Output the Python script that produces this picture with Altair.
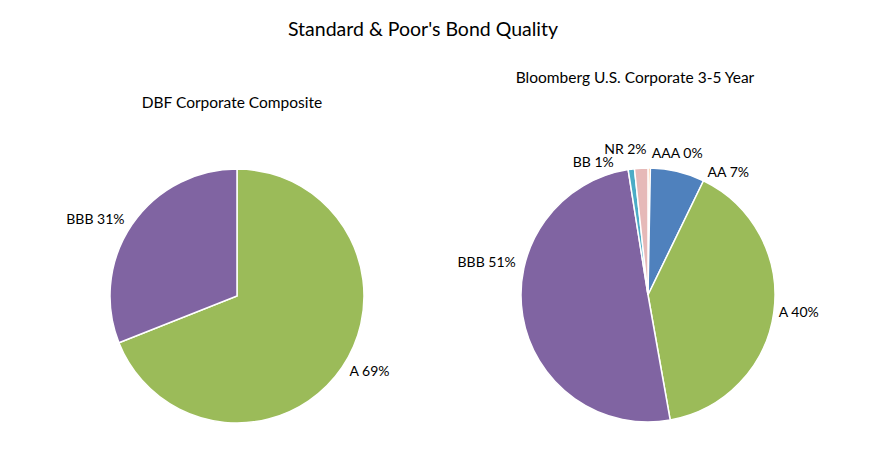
import altair as alt
import pandas as pd

# colours per rating (Excel 2010 palette)
CATEGORIES = ["AAA", "AA", "A", "BBB", "BB", "NR"]
COLORS = ["#F79646", "#4F81BD", "#9BBB59", "#8064A2", "#4BACC6", "#E6B9B8"]

# DBF Corporate Composite
DBF_GRADES = ["A", "BBB"]
DBF_SHARE = [69, 31]
DBF_PCT = ["69%", "31%"]

# Bloomberg U.S. Corporate 3-5 Year
BBG_GRADES = ["AAA", "AA", "A", "BBB", "BB", "NR"]
BBG_SHARE = [0.3, 6.9, 40.0, 50.3, 0.8, 1.7]
BBG_PCT = ["0%", "7%", "40%", "51%", "1%", "2%"]

# where crowded labels were moved: degrees along the rim, px outwards
DBF_SHIFT = [0, 0]
DBF_PUSH = [0, 0]
BBG_SHIFT = [1, 12.5, 0, 23, -7, 2.5]
BBG_PUSH = [5, 0, -4, 0, 0, 9]

FONT = "Lato"
R = 127
GAP = 9


def pie(grades, shares, pcts, shifts, pushes, cx, cy):
    total = sum(shares)
    angles = []
    cum = 0
    for s, sh in zip(shares, shifts):
        angles.append((cum + s / 2) / total * 360 + sh)
        cum += s
    df = pd.DataFrame({
        "grade": grades,
        "share": shares,
        "idx": list(range(len(grades))),
        "label": [g + " " + p for g, p in zip(grades, pcts)],
        "angle": angles,
        "rad": [R + GAP + p for p in pushes],
    })

    arcs = alt.Chart(df).mark_arc(outerRadius=R, stroke="white", strokeWidth=1.5).encode(
        theta=alt.Theta("share:Q", stack=True),
        color=alt.Color("grade:N", scale=alt.Scale(domain=CATEGORIES, range=COLORS), legend=None),
        order=alt.Order("idx:Q"),
        x=alt.value(cx),
        y=alt.value(cy),
    )

    txt = alt.Chart(df).encode(
        theta=alt.Theta("angle:Q", scale=alt.Scale(domain=[0, 360]), stack=None),
        radius=alt.Radius("rad:Q", scale=None),
        text="label:N",
        x=alt.value(cx),
        y=alt.value(cy),
    )
    right = txt.transform_filter("datum.angle < 180").mark_text(
        align="left", font=FONT, fontSize=14, color="black")
    left = txt.transform_filter("datum.angle >= 180").mark_text(
        align="right", font=FONT, fontSize=14, color="black")

    return alt.layer(arcs, right, left).resolve_scale(theta="independent")


def title(text, x, y, size):
    return alt.Chart(pd.DataFrame({"t": [text]})).mark_text(
        font=FONT, fontSize=size, color="black", align="center", baseline="middle"
    ).encode(text="t:N", x=alt.value(x), y=alt.value(y))


chart = alt.layer(
    title("Standard & Poor's Bond Quality", 415, 22, 19.5),
    title("DBF Corporate Composite", 224, 95, 15.5),
    title("Bloomberg U.S. Corporate 3-5 Year", 627, 70, 15.5),
    pie(DBF_GRADES, DBF_SHARE, DBF_PCT, DBF_SHIFT, DBF_PUSH, 229, 288),
    pie(BBG_GRADES, BBG_SHARE, BBG_PCT, BBG_SHIFT, BBG_PUSH, 640, 287),
).resolve_scale(theta="independent").properties(
    width=861,
    height=439,
    autosize=alt.AutoSizeParams(type="none"),
    padding=0,
).configure_view(stroke=None)

chart.save("out.html", embed_options={"renderer": "svg", "actions": False})
